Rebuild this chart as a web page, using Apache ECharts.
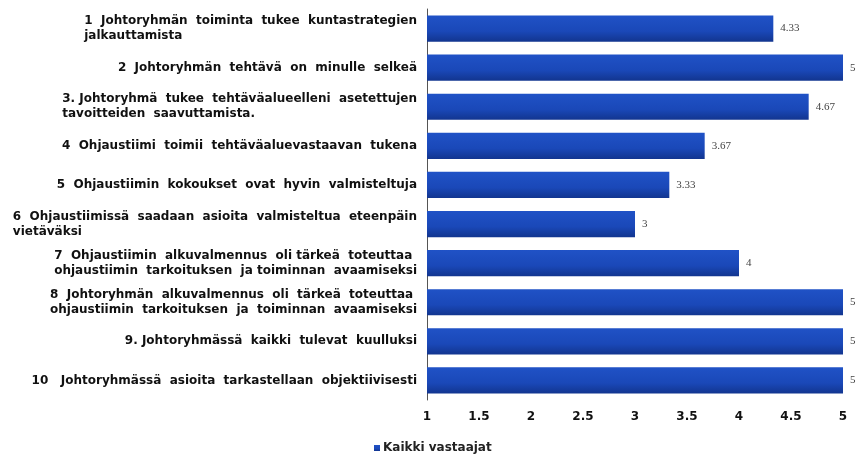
<!DOCTYPE html>
<html>
<head>
<meta charset="utf-8">
<script src="https://cdn.jsdelivr.net/npm/echarts@6/dist/echarts.min.js"></script>
<style>html,body{margin:0;padding:0;background:#fff}#c{width:856px;height:454px}</style>
</head>
<body>
<div id="c"></div>
<script>
var categories = [
  "1  Johtoryhmän  toiminta  tukee  kuntastrategien\njalkauttamista",
  "2  Johtoryhmän  tehtävä  on  minulle  selkeä",
  "3. Johtoryhmä  tukee  tehtäväalueelleni  asetettujen\ntavoitteiden  saavuttamista.",
  "4  Ohjaustiimi  toimii  tehtäväaluevastaavan  tukena",
  "5  Ohjaustiimin  kokoukset  ovat  hyvin  valmisteltuja",
  "6  Ohjaustiimissä  saadaan  asioita  valmisteltua  eteenpäin\nvietäväksi",
  "7  Ohjaustiimin  alkuvalmennus  oli tärkeä  toteuttaa\nohjaustiimin  tarkoituksen  ja toiminnan  avaamiseksi",
  "8  Johtoryhmän  alkuvalmennus  oli  tärkeä  toteuttaa\nohjaustiimin  tarkoituksen  ja  toiminnan  avaamiseksi",
  "9. Johtoryhmässä  kaikki  tulevat  kuulluksi",
  "10   Johtoryhmässä  asioita  tarkastellaan  objektiivisesti"
];
var values = [4.33, 5, 4.67, 3.67, 3.33, 3, 4, 5, 5, 5];
var seriesName = "Kaikki vastaajat";
var axisMin = 1, axisMax = 5, axisStep = 0.5;

var labelFont = 'DejaVu Sans, Arial, sans-serif';
var chart = echarts.init(document.getElementById('c'), null, {renderer: 'canvas'});
chart.setOption({
  animation: false,
  grid: {left: 427, right: 13, top: 9, bottom: 54, containLabel: false},
  legend: {
    data: [seriesName],
    left: 369, top: 437,
    icon: 'rect', itemWidth: 6, itemHeight: 6, itemGap: 4,
    textStyle: {fontFamily: labelFont, fontWeight: 'bold', fontSize: 12, color: '#222', padding: [0,0,0,-2]}
  },
  xAxis: {
    type: 'value', min: axisMin, max: axisMax, interval: axisStep,
    axisLine: {show: false}, axisTick: {show: false}, splitLine: {show: false},
    axisLabel: {fontFamily: labelFont, fontWeight: 'bold', fontSize: 12, color: '#111', margin: 11}
  },
  yAxis: {
    type: 'category', inverse: true, data: categories,
    axisLine: {show: true, lineStyle: {color: '#555', width: 1}},
    axisTick: {show: false},
    axisLabel: {
      margin: 10, fontFamily: labelFont, fontWeight: 'bold', fontSize: 12, color: '#111',
      lineHeight: 15,
      formatter: function (v) { return v.split('\n').map(function (l) { return '{a|' + l + '}'; }).join('\n'); },
      rich: {a: {align: 'left', fontFamily: labelFont, fontWeight: 'bold', fontSize: 12, color: '#111', lineHeight: 15}}
    }
  },
  series: [{
    name: seriesName, type: 'bar', data: values,
    barCategoryGap: '33%',
    itemStyle: {
      color: new echarts.graphic.LinearGradient(0, 0, 0, 1, [
        {offset: 0, color: '#2052c6'},
        {offset: 0.6, color: '#1a48b8'},
        {offset: 1, color: '#12358f'}
      ])
    },
    label: {show: true, position: 'right', distance: 7, fontFamily: 'Liberation Serif, Times New Roman, serif', fontSize: 11, color: '#444'}
  }]
});
</script>
</body>
</html>
